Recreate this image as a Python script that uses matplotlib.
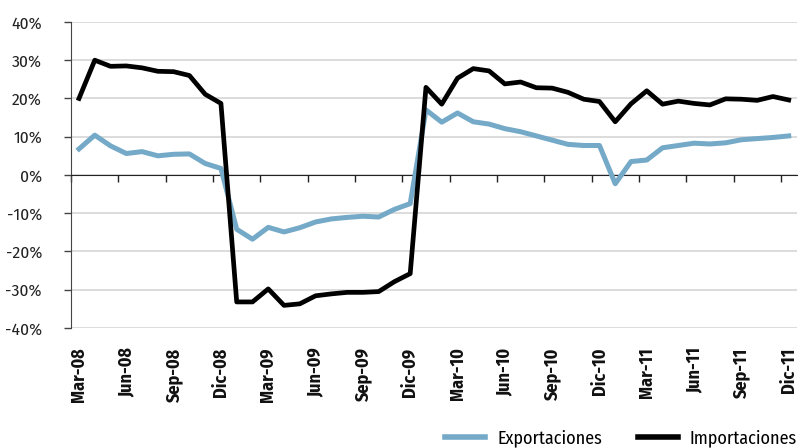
import matplotlib.pyplot as plt
import numpy as np

# meses Mar-08 .. Dic-11
meses = ['Mar-08', 'Abr-08', 'May-08', 'Jun-08', 'Jul-08', 'Ago-08', 'Sep-08', 'Oct-08', 'Nov-08', 'Dic-08',
         'Ene-09', 'Feb-09', 'Mar-09', 'Abr-09', 'May-09', 'Jun-09', 'Jul-09', 'Ago-09', 'Sep-09', 'Oct-09', 'Nov-09', 'Dic-09',
         'Ene-10', 'Feb-10', 'Mar-10', 'Abr-10', 'May-10', 'Jun-10', 'Jul-10', 'Ago-10', 'Sep-10', 'Oct-10', 'Nov-10', 'Dic-10',
         'Ene-11', 'Feb-11', 'Mar-11', 'Abr-11', 'May-11', 'Jun-11', 'Jul-11', 'Ago-11', 'Sep-11', 'Oct-11', 'Nov-11', 'Dic-11']

exportaciones = [6.8, 10.4, 7.6, 5.6, 6.1, 5.0, 5.4, 5.5, 3.0, 1.7,
                 -14.2, -16.8, -13.7, -14.9, -13.8, -12.3, -11.5, -11.1, -10.8, -11.0, -9.0, -7.5,
                 17.0, 13.8, 16.2, 13.9, 13.3, 12.1, 11.3, 10.2, 9.1, 8.0, 7.7, 7.7,
                 -2.3, 3.5, 3.9, 7.1, 7.7, 8.3, 8.1, 8.4, 9.2, 9.5, 9.8, 10.2]

importaciones = [20.0, 30.0, 28.4, 28.5, 28.0, 27.1, 27.0, 26.0, 21.1, 18.7,
                 -33.2, -33.2, -29.8, -34.1, -33.7, -31.6, -31.1, -30.7, -30.7, -30.5, -27.9, -25.8,
                 22.9, 18.5, 25.3, 27.8, 27.2, 23.8, 24.3, 22.8, 22.7, 21.6, 19.8, 19.2,
                 13.9, 18.6, 22.0, 18.5, 19.3, 18.7, 18.3, 19.9, 19.8, 19.5, 20.5, 19.6]

plt.rcParams['font.family'] = ['Fira Sans Condensed', 'DejaVu Sans']

fig = plt.figure(figsize=(7.99, 4.48), dpi=100)
ax = fig.add_axes([0.089, 0.268, 0.908, 0.683])

x = np.arange(len(meses))
ax.plot(x, exportaciones, color='#74a9c8', lw=3.6, label='Exportaciones', zorder=3)
ax.plot(x, importaciones, color='black', lw=3.4, label='Importaciones', zorder=4)

ax.set_xlim(-0.5, len(meses) - 0.5)
ax.set_ylim(-40, 40)
yt = np.arange(-40, 41, 10)
ax.set_yticks(yt)
ax.set_yticklabels([f'{v}%' for v in yt], fontsize=12.5, color='#222222')
ax.yaxis.grid(True, color='#d9d9d9', lw=1.3)
ax.set_axisbelow(True)
ax.tick_params(axis='y', length=5, width=1, color='#444444', pad=16)

# eje de categorias en 0
ax.spines['bottom'].set_position(('data', 0))
ax.spines['bottom'].set_color('#222222')
ax.spines['left'].set_color('#444444')
ax.spines['top'].set_visible(False)
ax.spines['right'].set_visible(False)
ax.set_xticks(np.arange(-0.5, len(meses), 3))
ax.tick_params(axis='x', length=5, width=1, color='#222222', labelbottom=False, direction='out')

sec = ax.secondary_xaxis(0)
sec.spines['bottom'].set_visible(False)
sec.set_xticks(x[::3])
sec.set_xticklabels(meses[::3], rotation=90, fontsize=13, fontweight='bold', color='#111111')
sec.tick_params(length=0, pad=14)

fig.legend(loc='center left', bbox_to_anchor=(445 / 799, 10 / 448), ncol=2, frameon=False,
           fontsize=13, handlelength=2.2, columnspacing=2.0, handletextpad=0.68,
           borderpad=0, borderaxespad=0)
for h in fig.legends[0].legend_handles:
    h.set_linewidth(4)

fig.savefig('out.png', dpi=100)
